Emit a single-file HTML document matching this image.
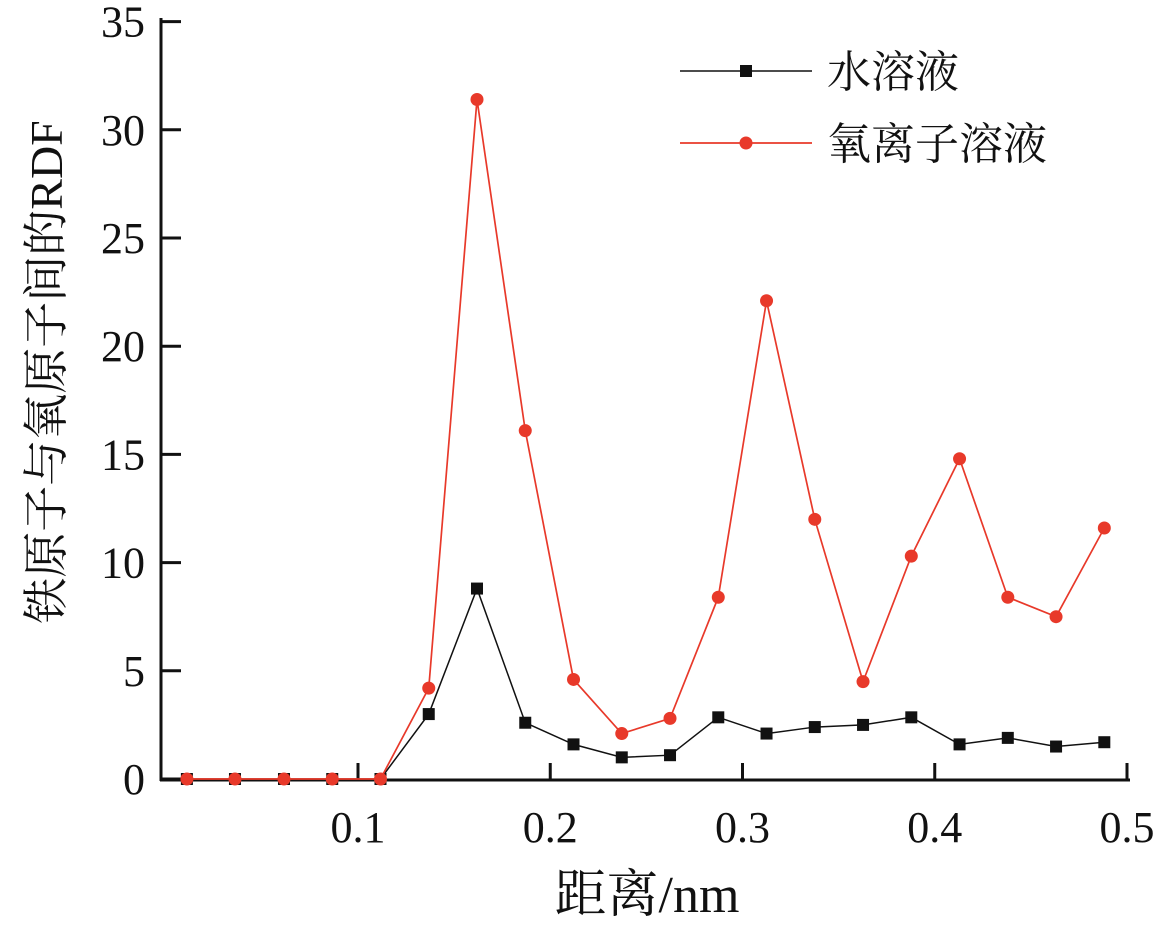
<!DOCTYPE html>
<html><head><meta charset="utf-8"><style>
body{margin:0;background:#fff;}
svg text{font-family:"Liberation Serif","Noto Serif CJK SC",serif;fill:#111;}
</style></head><body>
<svg width="1165" height="927">
<g id="axes"></g><g id="series"></g>
<g>
<line x1="680" y1="71" x2="812" y2="71" stroke="#111" stroke-width="1.5"/>
<rect x="740" y="65" width="12" height="12" fill="#111"/>
<text x="827" y="87" font-size="44">水溶液</text>
<line x1="680" y1="143" x2="812" y2="143" stroke="#e8392a" stroke-width="1.7"/>
<circle cx="746" cy="143" r="6.5" fill="#e8392a"/>
<text x="827" y="159" font-size="44">氧离子溶液</text>
</g>
<text x="647" y="912" font-size="52" text-anchor="middle">距离/nm</text>
<text transform="translate(62,372) rotate(-90)" font-size="46" text-anchor="middle">铁原子与氧原子间的RDF</text>
</svg>
<script>
const xs=[0.011,0.036,0.0615,0.0866,0.1117,0.1368,0.1619,0.187,0.2121,0.2372,0.2623,0.2874,0.3125,0.3376,0.3627,0.3878,0.4129,0.438,0.4631,0.4882];
const water=[0,0,0,0,0,3.0,8.8,2.6,1.6,1.0,1.1,2.85,2.1,2.4,2.5,2.85,1.6,1.9,1.5,1.7];
const oxygen=[0,0,0,0,0,4.2,31.4,16.1,4.6,2.1,2.8,8.4,22.1,12,4.5,10.3,14.8,8.4,7.5,11.6];
const yTicks=[0,5,10,15,20,25,30,35];
const xTicks=[0.1,0.2,0.3,0.4,0.5];
const NS='http://www.w3.org/2000/svg';
const X=v=>165.75+v*1922.5, Y=v=>779-v*21.64;
function mk(t,a,p){const e=document.createElementNS(NS,t);for(const k in a)e.setAttribute(k,a[k]);p.appendChild(e);return e;}
const ax=document.getElementById('axes'), se=document.getElementById('series');
let l=mk('line',{x1:161,y1:18,x2:161,y2:781,stroke:'#111','stroke-width':3},ax);


l=mk('line',{x1:160,y1:780,x2:1130,y2:780,stroke:'#111','stroke-width':3},ax);


yTicks.forEach(v=>{mk('line',{x1:161,y1:Y(v),x2:181,y2:Y(v),stroke:'#111','stroke-width':3},ax);
const t=mk('text',{x:145,y:Y(v)+15,'font-size':44,'text-anchor':'end'},ax);t.textContent=v;

});
xTicks.forEach(v=>{mk('line',{x1:X(v),y1:780,x2:X(v),y2:763,stroke:'#111','stroke-width':3},ax);
const t=mk('text',{x:X(v),y:842,'font-size':44,'text-anchor':'middle'},ax);t.textContent=v;

});
function draw(vals,color,sq,name){
const p=mk('polyline',{points:vals.map((v,i)=>X(xs[i])+','+Y(v)).join(' '),fill:'none',stroke:color,'stroke-width':sq?1.5:1.7},se);


vals.forEach((v,i)=>{let m;
if(sq)m=mk('rect',{x:X(xs[i])-6,y:Y(v)-6,width:12,height:12,fill:color},se);
else m=mk('circle',{cx:X(xs[i]),cy:Y(v),r:6.5,fill:color},se);

});}
draw(water,'#111',true,'water');
draw(oxygen,'#e8392a',false,'oxygen');
</script>
</body></html>
